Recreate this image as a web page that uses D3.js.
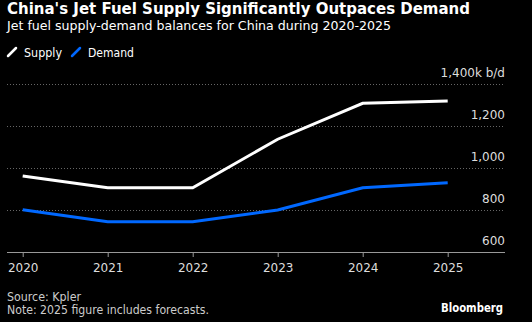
<!DOCTYPE html>
<html>
<head>
<meta charset="utf-8">
<script src="https://cdn.jsdelivr.net/npm/d3@7"></script>
<style>
  html, body { margin: 0; padding: 0; background: #000; }
  svg { display: block; }
  text { font-family: "DejaVu Sans", Verdana, sans-serif; }
</style>
</head>
<body>
<script>
// jet fuel balances, thousand barrels a day
var years = [2020, 2021, 2022, 2023, 2024, 2025];
var supply = [962, 906, 906, 1137, 1308, 1319];
var demand = [801, 744, 744, 800, 906, 930];
var yTicks = [600, 800, 1000, 1200, 1400];

var width = 532,
    height = 322;

var svg = d3.select('body').append('svg')
    .attr('width', width)
    .attr('height', height);

svg.append('rect')
    .attr('width', width)
    .attr('height', height)
    .attr('fill', '#000');

// header
svg.append('text')
    .attr('x', 7).attr('y', 14)
    .attr('fill', '#fff')
    .attr('font-size', 16)
    .attr('font-weight', 'bold')
    .attr('textLength', 463)
    .attr('lengthAdjust', 'spacingAndGlyphs')
    .text("China's Jet Fuel Supply Significantly Outpaces Demand");

svg.append('text')
    .attr('x', 7).attr('y', 30)
    .attr('fill', '#fff')
    .attr('font-size', 13)
    .attr('textLength', 384)
    .attr('lengthAdjust', 'spacingAndGlyphs')
    .text('Jet fuel supply-demand balances for China during 2020-2025');

// legend
var legend = [
    { name: 'Supply', color: '#ffffff', x: 8, w: 38 },
    { name: 'Demand', color: '#0068ff', x: 72, w: 46 }
];
var lg = svg.selectAll('.legend')
    .data(legend)
    .enter().append('g')
    .attr('transform', function(d) { return 'translate(' + d.x + ',52)'; });
lg.append('line')
    .attr('x1', 0).attr('y1', 4)
    .attr('x2', 8).attr('y2', -4)
    .attr('stroke', function(d) { return d.color; })
    .attr('stroke-width', 2.5)
    .attr('stroke-linecap', 'round');
lg.append('text')
    .attr('x', 16).attr('y', 4.5)
    .attr('fill', '#fff')
    .attr('font-size', 12.5)
    .attr('textLength', function(d) { return d.w; })
    .attr('lengthAdjust', 'spacingAndGlyphs')
    .text(function(d) { return d.name; });

// scales
var x = d3.scalePoint()
    .domain(years)
    .range([22.7, 447.7]);

var y = d3.scaleLinear()
    .domain([600, 1400])
    .range([252, 84]);

var left = 7, right = 505;

// gridlines
svg.selectAll('.grid')
    .data(yTicks.slice(1))
    .enter().append('line')
    .attr('x1', left).attr('x2', right)
    .attr('y1', function(d) { return y(d) + 0.5; })
    .attr('y2', function(d) { return y(d) + 0.5; })
    .attr('stroke', '#666')
    .attr('stroke-width', 1)
    .attr('stroke-dasharray', '1,2');

// value labels sit above their gridline on the right
svg.selectAll('.ylab')
    .data(yTicks)
    .enter().append('text')
    .attr('x', right)
    .attr('y', function(d) { return y(d) - 7; })
    .attr('text-anchor', 'end')
    .attr('fill', '#ddd')
    .attr('font-size', 12)
    .text(function(d) {
        return d === 1400 ? '1,400k b/d' : d3.format(',')(d);
    });

// x axis
svg.append('line')
    .attr('x1', left).attr('x2', right)
    .attr('y1', 252.5).attr('y2', 252.5)
    .attr('stroke', '#999')
    .attr('stroke-width', 1);

var xg = svg.append('g')
    .attr('transform', 'translate(0,252)')
    .call(d3.axisBottom(x).tickSize(5).tickPadding(6).tickFormat(d3.format('d')));
xg.select('.domain').remove();
xg.selectAll('.tick line').attr('stroke', '#999');
xg.selectAll('.tick text')
    .attr('fill', '#ddd')
    .attr('font-size', 12)
    .style('font-family', '"DejaVu Sans", Verdana, sans-serif');

// series
var line = d3.line()
    .x(function(d, i) { return x(years[i]); })
    .y(function(d) { return y(d); });

svg.append('path')
    .datum(demand)
    .attr('d', line)
    .attr('fill', 'none')
    .attr('stroke', '#0068ff')
    .attr('stroke-width', 3);

svg.append('path')
    .datum(supply)
    .attr('d', line)
    .attr('fill', 'none')
    .attr('stroke', '#fff')
    .attr('stroke-width', 3);

// footer
svg.append('text')
    .attr('x', 7).attr('y', 301)
    .attr('fill', '#ccc')
    .attr('font-size', 12)
    .attr('textLength', 74)
    .attr('lengthAdjust', 'spacingAndGlyphs')
    .text('Source: Kpler');

svg.append('text')
    .attr('x', 7).attr('y', 314)
    .attr('fill', '#ccc')
    .attr('font-size', 12)
    .attr('textLength', 202)
    .attr('lengthAdjust', 'spacingAndGlyphs')
    .text('Note: 2025 figure includes forecasts.');

svg.append('text')
    .attr('x', 503).attr('y', 312)
    .attr('text-anchor', 'end')
    .attr('fill', '#fff')
    .attr('font-size', 12)
    .attr('font-weight', 'bold')
    .attr('textLength', 62)
    .attr('lengthAdjust', 'spacingAndGlyphs')
    .text('Bloomberg');
</script>
</body>
</html>
